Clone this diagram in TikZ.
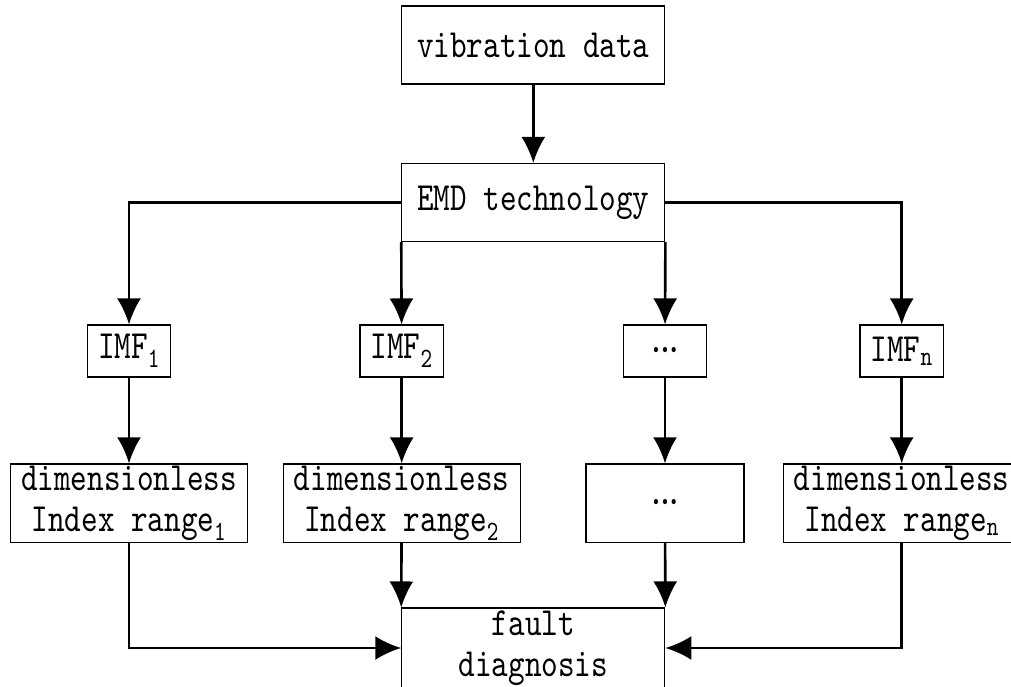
\documentclass[tikz,border=0pt]{standalone}
\usepackage{fontspec}
\usetikzlibrary{arrows.meta}
\newfontfamily\diagfont{lmmono10-regular.otf}[FakeStretch=0.79]
\tikzset{every picture/.append style={x=1pt,y=-1pt}}
\tikzset{block/.style={draw,line width=1.1pt,inner sep=0pt,align=center,
  font=\diagfont\fontsize{40}{41}\selectfont}}
\tikzset{wide/.style={block,minimum width=263pt,minimum height=78pt}}
\tikzset{imfbox/.style={block,minimum width=83.5pt,minimum height=52pt}}
\tikzset{dimbox/.style={block,minimum width=237pt,minimum height=78.7pt}}
\tikzset{arc/.style={-{Latex[length=26pt,width=24pt]},line width=2.6pt}}
\newcommand{\dotsmark}{{\fontsize{19}{19}\selectfont\textbullet\kern1pt\textbullet\kern1pt\textbullet}}

\begin{document}
\begin{tikzpicture}
\useasboundingbox (0,0) rectangle (1011,686);
\node (vib) at (533.3,45)[wide]{vibration data};
\node (emd) at (533.3,202.5)[wide]{EMD technology};
% IMF row
\node (imf1) at (129,351)[imfbox]{IMF\textsubscript{1}};
\node (imf2) at (401.7,351)[imfbox]{IMF\textsubscript{2}};
\node (imfd) at (665,351)[imfbox]{\dotsmark};
\node (imfn) at (901.7,351)[imfbox]{IMF\textsubscript{n}};
% index ranges
\node (dim1) at (129,503.3)[dimbox]{dimensionless\\Index range\textsubscript{1}};
\node (dim2) at (401.7,503.3)[dimbox]{dimensionless\\Index range\textsubscript{2}};
\node (dimd) at (665,503.3)[dimbox,minimum width=158pt]{\dotsmark};
\node (dimn) at (901.7,503.3)[dimbox]{dimensionless\\Index range\textsubscript{n}};
\node (fault) at (533.3,648)[wide,minimum height=80pt]{fault\\diagnosis};

\draw[arc] (vib) -- (emd);
\draw[arc] (emd.west) -| (imf1);
\draw[arc] (emd.south west) -- (imf2);
\draw[arc] (emd.south east) -- (imfd);
\draw[arc] (emd.east) -| (imfn);
\foreach \i in {1,2,d,n}
  \draw[arc] (imf\i) -- (dim\i);
\draw[arc] (dim1) |- (fault);
\draw[arc] (dim2) -- (fault.north west);
\draw[arc] (dimd) -- (fault.north east);
\draw[arc] (dimn) |- (fault);
\end{tikzpicture}
\end{document}
